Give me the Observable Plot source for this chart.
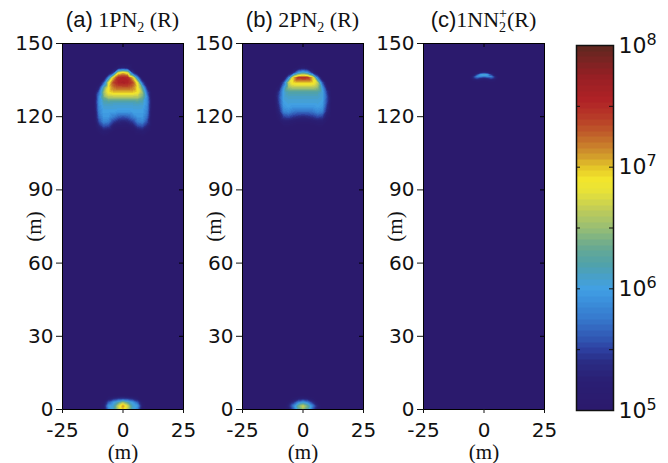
<!DOCTYPE html>
<html><head><meta charset="utf-8">
<script src="https://cdn.jsdelivr.net/npm/d3@7"></script>
<script src="https://cdn.jsdelivr.net/npm/@observablehq/plot@0.6"></script>
<style>
body{margin:0;background:#fff;}
#wrap{position:relative;width:668px;height:463px;overflow:hidden;background:#fff;}
.panel{position:absolute;top:0;}
.title{position:absolute;top:5px;width:220px;text-align:center;font-size:22px;line-height:30px;white-space:nowrap;color:#111;}
.sans{font-family:"Liberation Sans",Arial,sans-serif;}
.serif{font-family:"Liberation Serif","Times New Roman",serif;}
.serif sub{font-size:14px;vertical-align:-5px;line-height:0;}
.serif sup{font-size:14px;vertical-align:9px;line-height:0;}
</style></head>
<body><div id="wrap"></div>
<script>
// ---- axes ----
const xTicks = [-25, 0, 25];
const yTicks = [0, 30, 60, 90, 120, 150];
const cbTicks = [5, 5.5, 6, 6.5, 7, 7.5, 8];
const cbLabels = [5, 6, 7, 8];

// ---- colormap (log10 value -> colour) ----
const cmapStops = [5.0, 5.25, 5.4, 5.5, 5.6, 5.75, 5.9, 6.0, 6.1, 6.2, 6.35, 6.5, 6.65, 6.8, 6.9, 7.0, 7.1, 7.25, 7.4, 7.55, 7.75, 8.0];
const cmapColors = ["#2b1a6c","#2a1f74","#2a2c84","#2d40a0","#3158b4","#3678cc","#3b90dc","#42a0e4","#48a0c8","#50a2aa","#6aaa90","#98be74","#c0cc58","#e8e238","#f2e52c","#e4c428","#d0982c","#c2662a","#b83c28","#b02226","#961f24","#5e2820"];

// ---- dome grids (log10 values): columns x, rows y (top to bottom) ----
const xDome = [-12, -10, -8, -6, -4, -2, 0, 2, 4, 6, 8, 10, 12];
const yDome = [142, 140, 138, 136, 134, 132, 130, 128, 126, 124, 122, 120, 118, 116, 114, 112];
// panel (a) 1PN2
const domeA = [
  [5,5,5,5,5,5,5,5,5,5,5,5,5],
  [5,5,5,5,5.02,5.2,5.3,5.2,5.02,5,5,5,5],
  [5,5,5,5,5.5,6.8,7.0,6.8,5.5,5,5,5,5],
  [5,5,5,5.9,7.0,7.5,7.55,7.5,7.0,5.9,5,5,5],
  [5,5,5.6,6.8,7.35,7.55,7.6,7.55,7.35,6.8,5.6,5,5],
  [5,5.3,6.25,6.9,7.2,7.3,7.3,7.3,7.2,6.9,6.25,5.3,5],
  [5,5.65,6.5,6.9,7.0,7.0,7.0,7.0,7.0,6.9,6.5,5.65,5],
  [5,5.85,6.4,6.6,6.6,6.6,6.6,6.6,6.6,6.6,6.4,5.85,5],
  [5.05,5.9,6.15,6.2,6.15,6.15,6.15,6.15,6.15,6.2,6.15,5.9,5.05],
  [5.05,5.85,6.05,6.05,6.05,6.05,6.05,6.05,6.05,6.05,6.05,5.85,5.05],
  [5,5.8,6.0,6.0,6.0,5.95,5.95,5.95,6.0,6.0,6.0,5.8,5],
  [5,5.7,5.95,5.95,5.8,5.65,5.6,5.65,5.8,5.95,5.95,5.7,5],
  [5,5.55,5.85,5.8,5.5,5.35,5.3,5.35,5.5,5.8,5.85,5.55,5],
  [5,5.3,5.55,5.5,5.2,5.1,5.1,5.1,5.2,5.5,5.55,5.3,5],
  [5,5.1,5.2,5.15,5.05,5,5,5,5.05,5.15,5.2,5.1,5],
  [5,5,5.05,5.02,5,5,5,5,5,5.02,5.05,5,5]
];
// panel (b) 2PN2
const domeB = [
  [5,5,5,5,5,5,5,5,5,5,5,5,5],
  [5,5,5,5,5,5.1,5.2,5.1,5,5,5,5,5],
  [5,5,5,5,5.4,6.0,6.2,6.0,5.4,5,5,5,5],
  [5,5,5,5.8,7.0,7.45,7.5,7.45,7.0,5.8,5,5,5],
  [5,5,5.6,6.65,6.95,7.0,7.0,7.0,6.95,6.65,5.6,5,5],
  [5,5.2,5.95,6.5,6.6,6.6,6.6,6.6,6.6,6.5,5.95,5.2,5],
  [5,5.45,6.05,6.2,6.2,6.2,6.2,6.2,6.2,6.2,6.05,5.45,5],
  [5,5.55,6.05,6.1,6.1,6.1,6.1,6.1,6.1,6.1,6.05,5.55,5],
  [5,5.5,6.0,6.05,6.05,6.05,6.05,6.05,6.05,6.05,6.0,5.5,5],
  [5,5.4,5.95,6.0,5.95,5.95,5.95,5.95,5.95,6.0,5.95,5.4,5],
  [5,5.3,5.8,5.85,5.75,5.7,5.7,5.7,5.75,5.85,5.8,5.3,5],
  [5,5.15,5.5,5.55,5.45,5.4,5.35,5.4,5.45,5.55,5.5,5.15,5],
  [5,5.05,5.2,5.2,5.15,5.1,5.1,5.1,5.15,5.2,5.2,5.05,5],
  [5,5,5.05,5.05,5.02,5,5,5,5.02,5.05,5.05,5,5],
  [5,5,5,5,5,5,5,5,5,5,5,5,5],
  [5,5,5,5,5,5,5,5,5,5,5,5,5]
];
// ---- ground blobs (a) and (b) ----
const xBlob = [-10, -8, -6, -4, -2, 0, 2, 4, 6, 8, 10];
const yBlob = [6, 4.5, 3, 1.5, 0];
const blobA = [
  [5,5,5,5,5,5,5,5,5,5,5],
  [5,5,5.15,5.3,5.4,5.45,5.4,5.3,5.15,5,5],
  [5,5.1,5.6,5.95,6.2,6.5,6.2,5.95,5.6,5.1,5],
  [5,5.2,5.95,6.1,6.7,7.15,6.7,6.1,5.95,5.2,5],
  [5,5.1,5.8,6.1,6.6,7.0,6.6,6.1,5.8,5.1,5]
];
const blobB = [
  [5,5,5,5,5,5,5,5,5,5,5],
  [5,5,5,5.1,5.2,5.25,5.2,5.1,5,5,5],
  [5,5,5.1,5.4,5.8,6.0,5.8,5.4,5.1,5,5],
  [5,5,5.3,5.8,6.35,6.7,6.35,5.8,5.3,5,5],
  [5,5,5.2,5.6,6.2,6.5,6.2,5.6,5.2,5,5]
];
// ---- panel (c) 1NN2+ : thin arc grid ----
const xArc = [-6, -4.5, -3, -1.5, 0, 1.5, 3, 4.5, 6];
const yArc = [139.5, 138.75, 138, 137.25, 136.5, 135.75, 135, 134.25, 133.5];
const arcC = [
  [5,5,5,5,5,5,5,5,5],
  [5,5,5.02,5.08,5.12,5.08,5.02,5,5],
  [5,5.02,5.1,5.3,5.4,5.3,5.1,5.02,5],
  [5,5.08,5.45,6.0,6.15,6.0,5.45,5.08,5],
  [5.02,5.3,5.85,5.9,5.8,5.9,5.85,5.3,5.02],
  [5.02,5.35,5.55,5.4,5.3,5.4,5.55,5.35,5.02],
  [5,5.15,5.2,5.15,5.1,5.15,5.2,5.15,5],
  [5,5.05,5.05,5.05,5.05,5.05,5.05,5.05,5],
  [5,5,5,5,5,5,5,5,5]
];

// ---- build colour scale ----
const cmap = d3.scaleLinear().domain(cmapStops).range(cmapColors).interpolate(d3.interpolateRgb).clamp(true);
const NLEV = 64;
const levelColors = d3.range(NLEV).map(i => cmap(5 + 3 * (i + 0.5) / NLEV));
const thresholds = d3.range(1, NLEV).map(i => 5 + 3 * i / NLEV);
const colorScale = {type: "threshold", domain: thresholds, range: levelColors};
const bg = levelColors[0];

const gridSamples = (xs, ys, rows) => rows.flatMap((row, j) => row.map((v, i) => ({x: xs[i], y: ys[j], v})));

const ML = 62, MR = 20, MT = 43, MB = 54, FW = 121, FH = 366;
const PW = ML + FW + MR, PH = 463;

function panel(layers) {
  return Plot.plot({
    width: PW, height: PH, marginLeft: ML, marginRight: MR, marginTop: MT, marginBottom: MB,
    x: {domain: [-25, 25]}, y: {domain: [0, 150]},
    color: colorScale,
    style: {background: "transparent", fontFamily: "DejaVu Sans", fontSize: "20px", color: "#111", overflow: "visible"},
    marks: [
      Plot.frame({fill: bg}),
      ...layers.map(L => Plot.raster(gridSamples(L.xs, L.ys, L.rows), {
        x: "x", y: "y", fill: "v", interpolate: "barycentric",
        x1: d3.min(L.xs), x2: d3.max(L.xs), y1: d3.min(L.ys), y2: d3.max(L.ys)
      })),
      Plot.frame({stroke: "#000", strokeWidth: 1}),
      Plot.axisX({ticks: xTicks, tickSize: 4, tickPadding: 9, tickFormat: d => String(d), label: null}),
      Plot.axisY({ticks: yTicks, tickSize: 6, tickPadding: 3, tickFormat: d => String(d), label: null}),
      Plot.tickX(xTicks, {x: d => d, insetBottom: FH - 4, stroke: "#000"}),
      Plot.tickY(yTicks, {y: d => d, insetLeft: FW - 4, stroke: "#000"}),
      Plot.text(["(m)"], {text: d => d, frameAnchor: "bottom", lineAnchor: "middle", textAnchor: "middle", dy: 43, fontFamily: "Liberation Serif", fontSize: 21, fill: "#111"}),
      Plot.text(["(m)"], {text: d => d, frameAnchor: "left", lineAnchor: "middle", textAnchor: "middle", dx: -28, rotate: -90, fontFamily: "Liberation Serif", fontSize: 21, fill: "#111"})
    ]
  });
}

const wrap = document.getElementById("wrap");
const panels = [
  {left: 0, layers: [{xs: xDome, ys: yDome, rows: domeA}, {xs: xBlob, ys: yBlob, rows: blobA}],
   title: '<span class="sans">(a)</span> <span class="serif">1PN<sub>2</sub> (R)</span>'},
  {left: 180, layers: [{xs: xDome, ys: yDome, rows: domeB}, {xs: xBlob, ys: yBlob, rows: blobB}],
   title: '<span class="sans">(b)</span> <span class="serif">2PN<sub>2</sub> (R)</span>'},
  {left: 361, layers: [{xs: xArc, ys: yArc, rows: arcC}],
   title: '<span class="sans">(c)</span><span class="serif">1NN<sub>2</sub><sup style="margin-left:-7px">+</sup>(R)</span>'}
];
for (const p of panels) {
  const d = document.createElement("div");
  d.className = "panel"; d.style.left = p.left + "px"; d.style.width = PW + "px";
  d.appendChild(panel(p.layers));
  wrap.appendChild(d);
  const t = document.createElement("div");
  t.className = "title"; t.style.left = (p.left + ML + FW / 2 - 110) + "px";
  t.innerHTML = p.title;
  wrap.appendChild(t);
}

// ---- colour bar ----
const CW = 37, CML = 10, CMR = 52, CMT = 45, CMB = 53;
const cb = Plot.plot({
  width: CML + CW + CMR, height: PH, marginLeft: CML, marginRight: CMR, marginTop: CMT, marginBottom: CMB,
  x: {domain: [0, 1], axis: null}, y: {domain: [5, 8], axis: null},
  color: colorScale,
  style: {background: "transparent", fontFamily: "DejaVu Sans", fontSize: "22px", color: "#111", overflow: "visible"},
  marks: [
    Plot.raster({fill: (x, y) => y, x1: 0, x2: 1, y1: 5, y2: 8}),
    Plot.frame({stroke: "#111", strokeWidth: 1.5}),
    Plot.tickY(cbTicks, {y: d => d, insetRight: CW - 4, stroke: "#111"}),
    Plot.tickY(cbTicks, {y: d => d, insetLeft: CW - 4, stroke: "#111"}),
    Plot.axisY({anchor: "right", ticks: cbLabels, tickSize: 0, tickPadding: 5, tickFormat: d => "10^" + d, label: null})
  ]
});
d3.select(cb).selectAll('g[aria-label="y-axis tick label"] text').each(function () {
  const [b, e] = this.textContent.split("^");
  this.textContent = b;
  d3.select(this).append("tspan").attr("dy", "-0.5em").attr("font-size", "16px").text(e);
});
const cd = document.createElement("div");
cd.className = "panel"; cd.style.left = (576 - CML) + "px";
cd.appendChild(cb);
wrap.appendChild(cd);
</script></body></html>
